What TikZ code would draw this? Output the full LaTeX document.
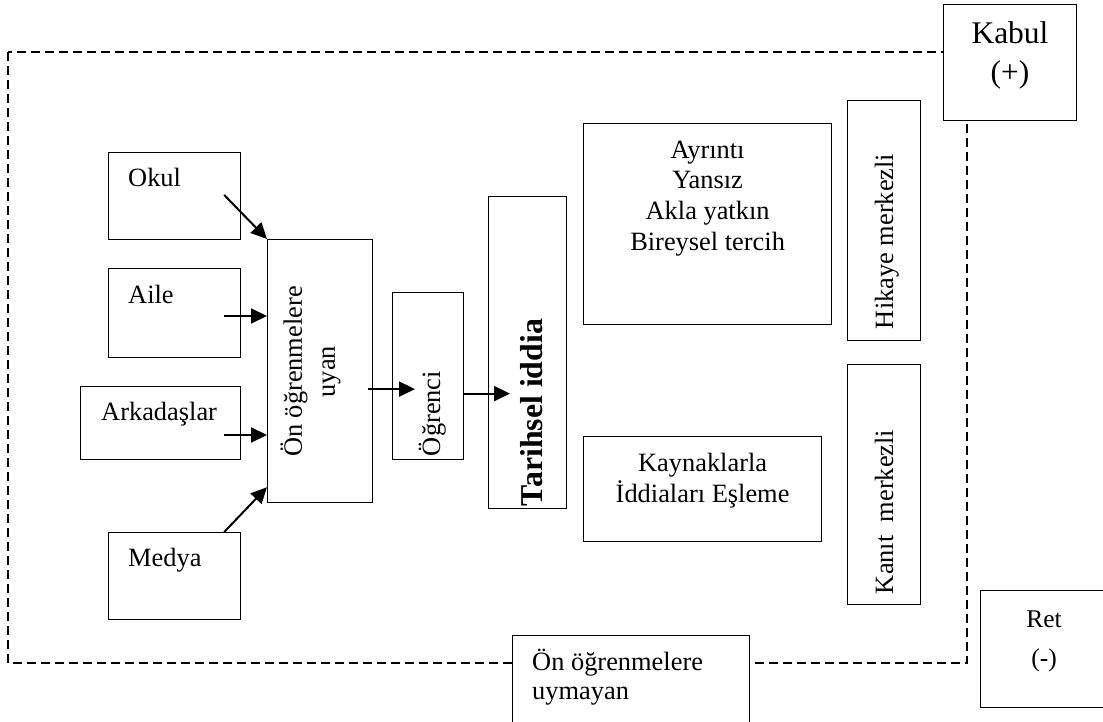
\documentclass[tikz,border=0pt]{standalone}
\usepackage{fontspec}
\setmainfont{Liberation Serif}
\usetikzlibrary{arrows.meta,calc}

\tikzset{
  box/.style={draw, line width=1.2pt, fill=white, inner sep=0pt, anchor=north west},
  txt/.style={inner sep=0pt, font=\fontsize{26.4pt}{31pt}\selectfont},
  vtxt/.style={txt, rotate=90, anchor=base west},
  feed/.style={line width=2pt, -{Triangle[length=16pt,width=15pt]}},
  frame/.style={line width=1.1pt, dash pattern=on 9pt off 5pt},
}

\begin{document}
\begin{tikzpicture}[x=1pt, y=-1pt]
\useasboundingbox (0,0) rectangle (1103,722);

% dashed frame of the accepted region
\draw[frame] (8,52) rectangle (967,663);

% sources of prior learning
\node[box, minimum width=132pt, minimum height=87pt] (okul)    at (108,152) {};
\node[box, minimum width=132pt, minimum height=89pt] (aile)    at (108,268) {};
\node[box, minimum width=160pt, minimum height=73pt] (arkadas) at (80,386)  {};
\node[box, minimum width=132pt, minimum height=87pt] (medya)   at (108,532) {};

\node[txt, anchor=base west] (okult)    at ([shift={(20,35)}]okul.north west)    {Okul};
\node[txt, anchor=base west] (ailet)    at ([shift={(20,35)}]aile.north west)    {Aile};
\node[txt, anchor=base west] (arkadast) at ([shift={(21,34)}]arkadas.north west) {Arkadaşlar};
\node[txt, anchor=base west] (medyat)   at ([shift={(20,34)}]medya.north west)   {Medya};

% central chain
\node[box, minimum width=105pt, minimum height=263pt] (uyan)     at (267,239) {};
\node[box, minimum width=71pt,  minimum height=167pt] (ogrenci)  at (392,292) {};
\node[box, minimum width=78pt,  minimum height=312pt] (tarihsel) at (488,196) {};

\node[txt, rotate=90, align=center, font=\fontsize{26.4pt}{33pt}\selectfont] (uyant)
  at ([shift={(-9.5,0.5)}]uyan.center) {Ön öğrenmelere\\uyan};
\node[vtxt] (ogrencit) at ([shift={(48,-4)}]ogrenci.south west) {Öğrenci};
\node[vtxt, font=\fontsize{31.8pt}{36pt}\selectfont\bfseries] (tarihselt)
  at ([shift={(54,-3)}]tarihsel.south west) {Tarihsel iddia};

% criteria boxes
\node[box, minimum width=248pt, minimum height=201pt] (ayrinti) at (583,123) {};
\node[box, minimum width=238pt, minimum height=105pt] (kaynak)  at (583,436) {};
\node[box, minimum width=73pt,  minimum height=240pt] (hikaye)  at (847,100) {};
\node[box, minimum width=73pt,  minimum height=240pt] (kanit)   at (847,364) {};

\node[txt, align=center, anchor=north, font=\fontsize{26.4pt}{30.7pt}\selectfont] (ayrintit)
  at ([yshift=-17.5pt]ayrinti.north) {Ayrıntı\\Yansız\\Akla yatkın\\Bireysel tercih};
\node[txt, align=center, anchor=north, font=\fontsize{26.4pt}{31pt}\selectfont] (kaynakt)
  at ([yshift=-17pt]kaynak.north) {Kaynaklarla\\İddiaları Eşleme};
\node[vtxt] (hikayet) at ([shift={(46,-12)}]hikaye.south west) {Hikaye merkezli};
\node[vtxt] (kanitt)  at ([shift={(46,-11)}]kanit.south west)  {Kanıt\ \ merkezli};

% outcome boxes
\node[box, minimum width=133pt, minimum height=116pt] (kabul)   at (943,4)   {};
\node[box, minimum width=140pt, minimum height=117pt] (ret)     at (980,590) {};
\node[box, minimum width=237pt, minimum height=100pt] (uymayan) at (512,635) {};

\node[txt, align=center, anchor=north, font=\fontsize{31.5pt}{39pt}\selectfont] (kabult)
  at (1010,21.5) {Kabul\\(+)};
\node[txt, align=center, anchor=north, font=\fontsize{25.5pt}{39pt}\selectfont] (rett)
  at (1044,611) {Ret\\(-)};
\node[txt, align=left, anchor=north west, font=\fontsize{26.4pt}{29pt}\selectfont] (uymayant)
  at ([shift={(20,13.5)}]uymayan.north west) {Ön öğrenmelere\\uymayan};

% arrows into the prior-learning box
\coordinate (okulout)    at ([shift={(-17,43)}]okul.north east);
\coordinate (aileout)    at ([shift={(-17,48)}]aile.north east);
\coordinate (arkadasout) at ([shift={(-17,49)}]arkadas.north east);
\coordinate (medyaout)   at ([xshift=-17pt]medya.north east);
\draw[feed] (okulout) -- (uyan.north west);
\draw[feed] (aileout) -- (aileout -| uyan.west);
\draw[feed] (arkadasout) -- (arkadasout -| uyan.west);
\draw[feed] (medyaout) -- ([yshift=16pt]uyan.south west);

% chain arrows
\coordinate (uyanout) at ([shift={(-5,18)}]uyan.east);
\coordinate (ogrout)  at ([yshift=-17.5pt]ogrenci.east);
\draw[feed] (uyanout) -- ($(uyanout -| ogrenci.west)+(23,0)$);
\draw[feed] (ogrout) -- ($(ogrout -| tarihsel.west)+(22,0)$);
\end{tikzpicture}
\end{document}
